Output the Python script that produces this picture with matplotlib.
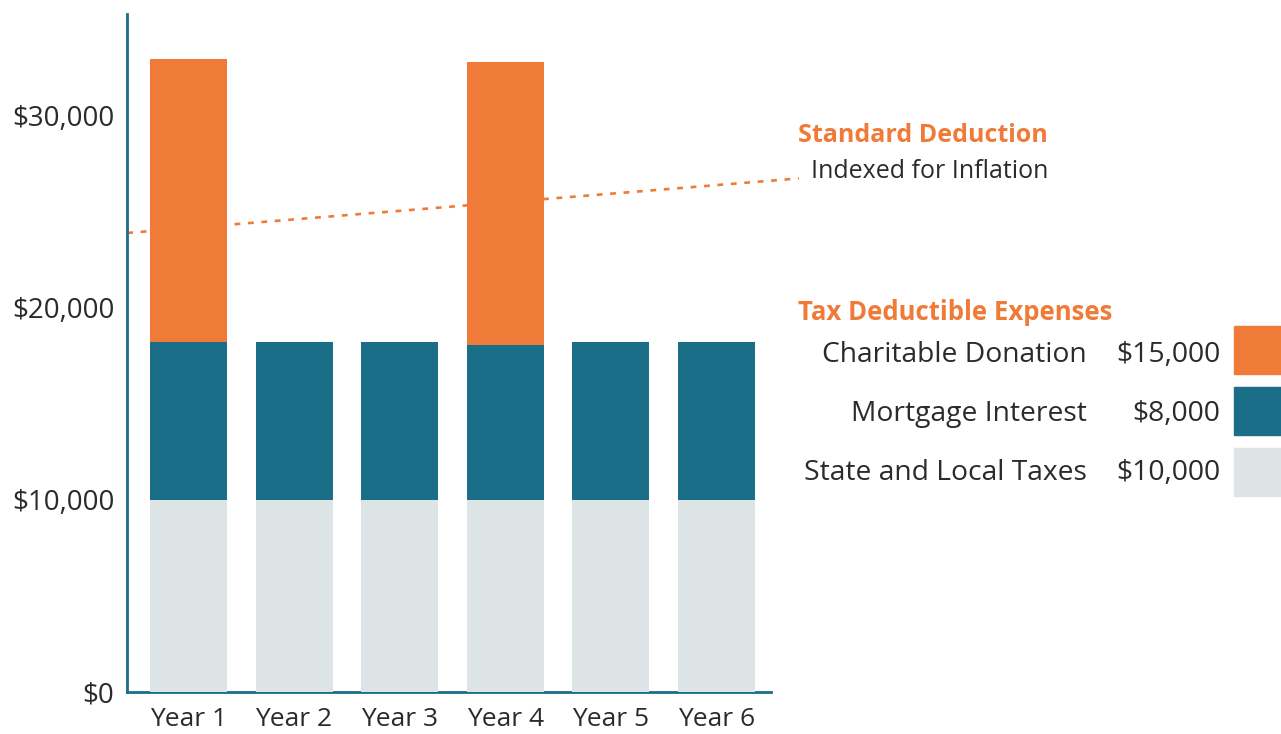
import matplotlib.pyplot as plt
from matplotlib.patches import Rectangle

years = ["Year 1", "Year 2", "Year 3", "Year 4", "Year 5", "Year 6"]
state_local = [10000, 10000, 10000, 10000, 10000, 10000]
mortgage = [8200, 8200, 8200, 8050, 8200, 8200]
charity = [14750, 0, 0, 14750, 0, 0]

# standard deduction line (start / end of the dotted line)
std_x = [-0.58, 5.78]
std_y = [23900, 26740]

legend_labels = ["Charitable Donation", "Mortgage Interest", "State and Local Taxes"]
legend_values = ["$15,000", "$8,000", "$10,000"]

orange = "#F07A38"
teal = "#1B6E87"
gray = "#DCE4E6"
txt = "#2b2b2b"

W, H = 1281, 734
fig = plt.figure(figsize=(W / 100, H / 100), dpi=100)
ax = fig.add_axes([127 / W, 42 / H, 644 / W, 678 / H])

x = range(len(years))
bw = 0.73
ax.bar(x, state_local, width=bw, color=gray, zorder=3)
ax.bar(x, mortgage, width=bw, bottom=state_local, color=teal, zorder=3)
base = [a + b for a, b in zip(state_local, mortgage)]
ax.bar(x, charity, width=bw, bottom=base, color=orange, zorder=3)

ax.plot(std_x, std_y, color=orange, lw=1.9, linestyle=(0, (2.2, 2.9)),
        zorder=2, clip_on=False)

ax.set_xlim(-0.582, 5.516)
ax.set_ylim(0, 35300)
ax.set_yticks([0, 10000, 20000, 30000])
ax.set_yticklabels(["$0", "$10,000", "$20,000", "$30,000"])
ax.set_xticks(list(x))
ax.set_xticklabels(years)
ax.tick_params(length=0, labelsize=20, labelcolor=txt)
ax.tick_params(axis="y", pad=9)
ax.tick_params(axis="x", pad=11)
for lab in ax.get_xticklabels() + ax.get_yticklabels():
    lab.set_fontfamily("Open Sans")
for lab in ax.get_xticklabels():
    lab.set_fontsize(19)

for s in ["top", "right"]:
    ax.spines[s].set_visible(False)
for s in ["left", "bottom"]:
    ax.spines[s].set_color(teal)
    ax.spines[s].set_linewidth(2)


def fx(px):
    return px / W


def fy(py):
    return 1 - py / H


fig.text(fx(1048), fy(136), "Standard Deduction", color=orange, fontsize=18,
         fontweight="bold", family="Open Sans", ha="right", va="center")
fig.text(fx(1048), fy(171), "Indexed for Inflation", color=txt, fontsize=18,
         family="Open Sans", ha="right", va="center")

fig.text(fx(798), fy(312), "Tax Deductible Expenses", color=orange, fontsize=18.5,
         fontweight="bold", family="Open Sans", ha="left", va="center")

colors = [orange, teal, gray]
for i in range(3):
    yc = 355 + i * 59
    fig.text(fx(1087), fy(yc), legend_labels[i], color=txt, fontsize=20.3,
             family="Open Sans", ha="right", va="center")
    fig.text(fx(1220), fy(yc), legend_values[i], color=txt, fontsize=20.3,
             family="Open Sans", ha="right", va="center")
    fig.patches.append(Rectangle((fx(1234), fy(350 + i * 61 + 24)), 48 / W, 48 / H,
                                 transform=fig.transFigure, color=colors[i]))

fig.savefig("out.png", dpi=100)
